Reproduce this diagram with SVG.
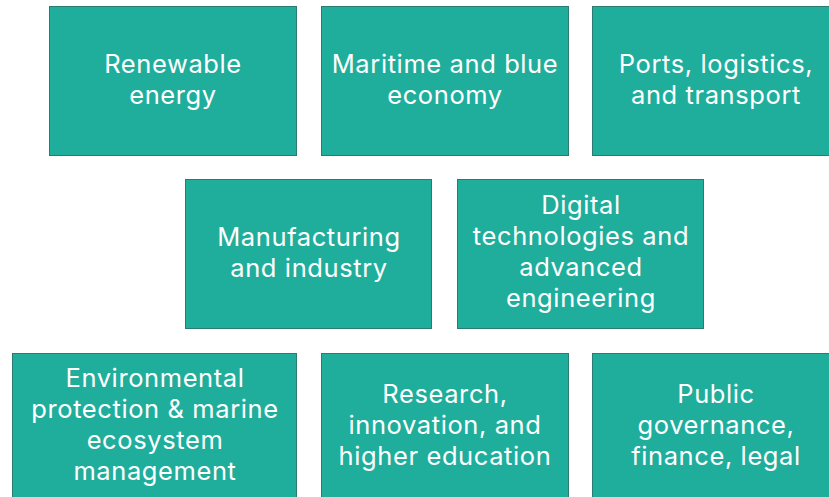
<svg xmlns="http://www.w3.org/2000/svg" width="829" height="497" viewBox="0 0 829 497">
  <style>
    .box { fill: #1fae9c; stroke: #2b7b72; stroke-width: 1; }
    .label { fill: #ffffff; font-family: Inter, "Open Sans", "Liberation Sans", sans-serif; font-size: 25.5px; letter-spacing: 0.6px; text-anchor: middle; }
  </style>
  <rect width="829" height="497" fill="#ffffff"/>

  <!-- top row -->
  <g id="renewable-energy">
    <rect class="box" x="49.5" y="6.5" width="247" height="149"/>
    <text class="label" x="173" y="73">Renewable</text>
    <text class="label" x="173" y="104">energy</text>
  </g>
  <g id="maritime-blue-economy">
    <rect class="box" x="321.5" y="6.5" width="247" height="149"/>
    <text class="label" x="445" y="73">Maritime and blue</text>
    <text class="label" x="445" y="104">economy</text>
  </g>
  <g id="ports-logistics-transport">
    <rect class="box" x="592.5" y="6.5" width="247" height="149"/>
    <text class="label" x="716" y="73">Ports, logistics,</text>
    <text class="label" x="716" y="104">and transport</text>
  </g>

  <!-- middle row -->
  <g id="manufacturing-industry">
    <rect class="box" x="185.5" y="179.5" width="246" height="149"/>
    <text class="label" x="309" y="246">Manufacturing</text>
    <text class="label" x="309" y="277">and industry</text>
  </g>
  <g id="digital-engineering">
    <rect class="box" x="457.5" y="179.5" width="246" height="149"/>
    <text class="label" x="581" y="214">Digital</text>
    <text class="label" x="581" y="245">technologies and</text>
    <text class="label" x="581" y="276">advanced</text>
    <text class="label" x="581" y="307">engineering</text>
  </g>

  <!-- bottom row -->
  <g id="environmental-protection">
    <rect class="box" x="12.5" y="353.5" width="284" height="149"/>
    <text class="label" x="155" y="387">Environmental</text>
    <text class="label" x="155" y="418">protection &amp; marine</text>
    <text class="label" x="155" y="449">ecosystem</text>
    <text class="label" x="155" y="480">management</text>
  </g>
  <g id="research-innovation">
    <rect class="box" x="321.5" y="353.5" width="247" height="149"/>
    <text class="label" x="445" y="403">Research,</text>
    <text class="label" x="445" y="434">innovation, and</text>
    <text class="label" x="445" y="465">higher education</text>
  </g>
  <g id="public-governance">
    <rect class="box" x="592.5" y="353.5" width="247" height="149"/>
    <text class="label" x="716" y="403">Public</text>
    <text class="label" x="716" y="434">governance,</text>
    <text class="label" x="716" y="465">finance, legal</text>
  </g>

  <g id="connectors"/>
</svg>
